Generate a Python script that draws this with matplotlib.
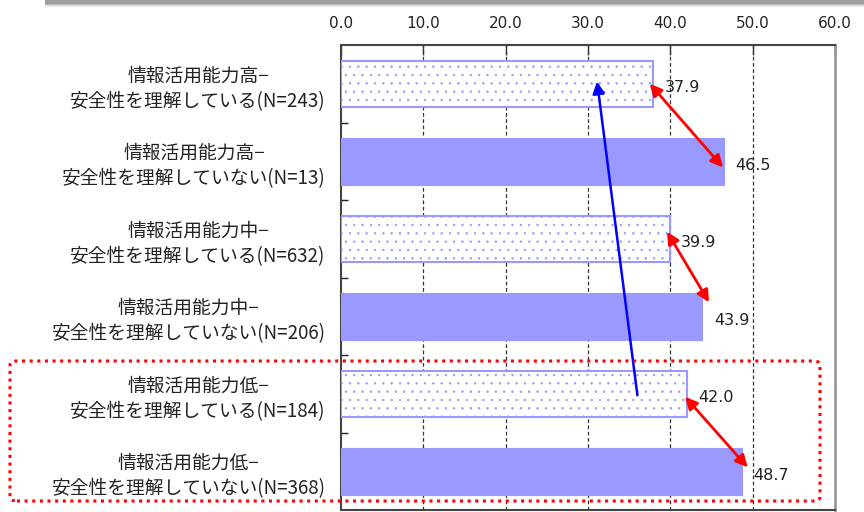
import matplotlib
matplotlib.use("Agg")
import matplotlib.pyplot as plt
from matplotlib.patches import FancyBboxPatch, Rectangle

plt.rcParams['font.family'] = ['Noto Sans CJK JP', 'DejaVu Sans']
plt.rcParams['hatch.linewidth'] = 0.5

categories = [
    "情報活用能力高−\n安全性を理解している(N=243)",
    "情報活用能力高−\n安全性を理解していない(N=13)",
    "情報活用能力中−\n安全性を理解している(N=632)",
    "情報活用能力中−\n安全性を理解していない(N=206)",
    "情報活用能力低−\n安全性を理解している(N=184)",
    "情報活用能力低−\n安全性を理解していない(N=368)",
]
values = [37.9, 46.5, 39.9, 43.9, 42.0, 48.7]
understands = [True, False, True, False, True, False]
x_ticks = [0, 10, 20, 30, 40, 50, 60]

fill_color = "#9999ff"
edge_color = "#9999ff"

fig = plt.figure(figsize=(8.64, 5.12), dpi=100)
ax = fig.add_axes([341 / 864, 2 / 512, 494 / 864, 465 / 512])

ypos = list(range(len(categories)))
for y, v, u in zip(ypos, values, understands):
    if u:
        ax.barh(y, v, height=0.6, color="white", edgecolor=edge_color,
                linewidth=1.5, hatch="..", zorder=3)
    else:
        ax.barh(y, v, height=0.6, color=fill_color, edgecolor=fill_color,
                linewidth=0.8, zorder=3)
    ax.text(v + 1.4, y + 0.05, f"{v:.1f}", va="center", ha="left",
            fontsize=11.5, color="#222222", family="DejaVu Sans", zorder=5)

ax.set_xlim(0, 60)
ax.set_ylim(len(categories) - 0.5, -0.5)
ax.xaxis.tick_top()
ax.set_xticks(x_ticks)
ax.set_xticklabels([f"{t:.1f}" for t in x_ticks], fontsize=11,
                   family="DejaVu Sans", color="#222222")
ax.tick_params(axis="x", direction="in", length=7, width=1, pad=10,
               color="#333333")

# category separators as inward ticks on the left
ax.set_yticks([i + 0.5 for i in range(len(categories) - 1)], minor=False)
ax.set_yticklabels([])
ax.tick_params(axis="y", direction="in", length=5, width=1, color="#222222")
ax.set_yticks(ypos, minor=True)
ax.set_yticklabels(categories, minor=True, fontsize=13.5, color="#222222",
                   ha="right", multialignment="center", linespacing=1.3)
ax.tick_params(axis="y", which="minor", length=0, pad=11)

for x in x_ticks[1:-1]:
    ax.axvline(x, color="#333333", linestyle=(0, (3, 2)), linewidth=0.9,
               zorder=1)

for side in ["left", "top", "bottom"]:
    ax.spines[side].set_color("#444444")
    ax.spines[side].set_linewidth(1.5)
ax.spines["right"].set_color("#999999")
ax.spines["right"].set_linewidth(2)

# red double-headed arrows comparing pairs
pairs = [((37.5, 0.0), (46.4, 1.08)),
         ((39.6, 1.91), (44.7, 2.82)),
         ((41.8, 4.04), (49.4, 4.95))]
for start, end in pairs:
    ax.annotate("", xy=end, xytext=start,
                arrowprops=dict(arrowstyle="<|-|>", color="#ff0000", lw=2,
                                mutation_scale=18, shrinkA=0, shrinkB=0),
                zorder=6)

# blue arrow from low to high group
ax.annotate("", xy=(31.1, -0.03), xytext=(36.0, 4.02),
            arrowprops=dict(arrowstyle="-|>", color="#0000ff", lw=1.8,
                            mutation_scale=18, shrinkA=0, shrinkB=0),
            zorder=6)

# dotted highlight box around the low group
box = FancyBboxPatch((10 / 864, 11 / 512), 810 / 864, 140 / 512,
                     boxstyle="round,pad=0,rounding_size=0.008",
                     transform=fig.transFigure, fill=False,
                     edgecolor="#ff0000", linewidth=2.2,
                     linestyle=(0, (1, 1.5)), zorder=10)
fig.patches.append(box)

# shaded bar along the top edge
for i, a in enumerate([0.55, 0.35, 0.2, 0.1, 0.05]):
    fig.patches.append(Rectangle((45 / 864, 1 - (4 + i) / 512), 1, (4 + i) / 512,
                                 transform=fig.transFigure, color="#888888",
                                 alpha=a, linewidth=0))

fig.savefig("out.png", dpi=100, facecolor="white")
